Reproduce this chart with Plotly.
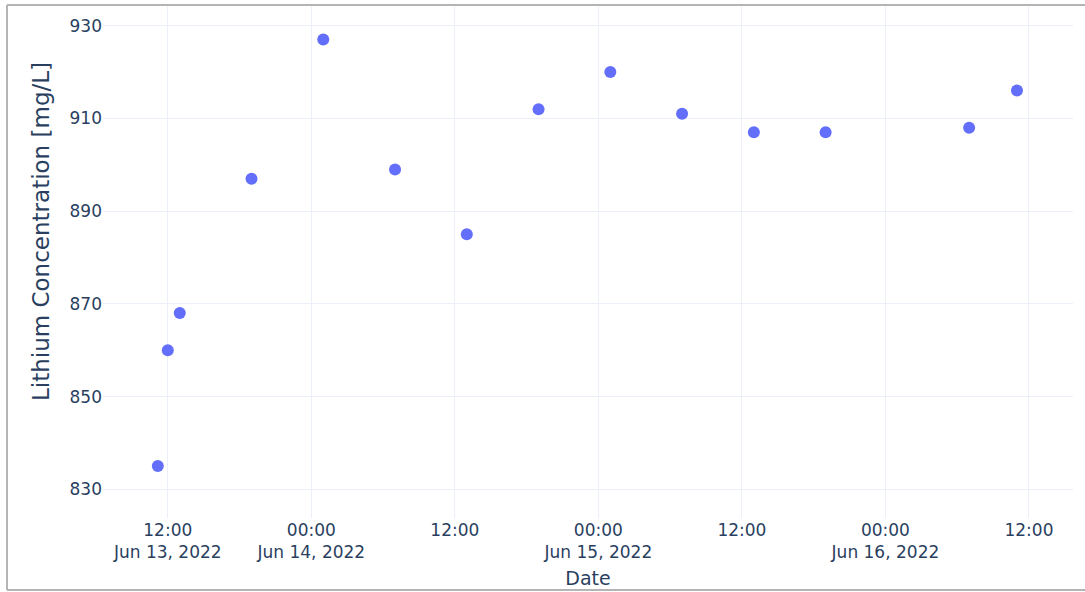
import plotly.graph_objects as go

# Data
dates = [
    "2022-06-13 11:10", "2022-06-13 12:00", "2022-06-13 13:00", "2022-06-13 19:00",
    "2022-06-14 01:00", "2022-06-14 07:00", "2022-06-14 13:00", "2022-06-14 19:00",
    "2022-06-15 01:00", "2022-06-15 07:00", "2022-06-15 13:00", "2022-06-15 19:00",
    "2022-06-16 07:00", "2022-06-16 11:00",
]
lithium = [835, 860, 868, 897, 927, 899, 885, 912, 920, 911, 907, 907, 908, 916]

x_range = ["2022-06-13 06:35", "2022-06-16 15:41"]
y_range = [823.8, 934.25]

W, H = 1085, 592
ML, MR, MT, MB = 103, 12, 6, 74
pw = W - ML - MR
ph = H - MT - MB

fig = go.Figure(
    go.Scatter(
        x=dates, y=lithium, mode="markers",
        marker=dict(color="#636efa", size=12),
    )
)

font_family = "DejaVu Sans, Verdana, sans-serif"

fig.update_layout(
    template="plotly_white",
    width=W, height=H,
    margin=dict(l=ML, r=MR, t=MT, b=MB, autoexpand=False),
    font=dict(family=font_family, color="#2a3f5f", size=17),
    showlegend=False,
    paper_bgcolor="white",
    plot_bgcolor="white",
)

fig.update_xaxes(
    range=x_range, type="date",
    dtick=12 * 3600 * 1000, tick0="2022-06-13 00:00",
    title=dict(text="Date", font=dict(size=19, color="#2a3f5f"), standoff=10),
    tickfont=dict(size=17),
    gridcolor="#EBF0F8", zeroline=False, automargin=False,
)
fig.update_yaxes(
    range=y_range, dtick=20, tick0=830,
    tickfont=dict(size=17),
    gridcolor="#EBF0F8", zeroline=False, automargin=False,
)

# y-axis title (placed as in the reference, slightly above the plot centre)
fig.add_annotation(
    text="Lithium Concentration [mg/L]", textangle=-90,
    xref="paper", yref="paper",
    x=(41 - ML) / pw, y=(H - MB - 232) / ph,
    xanchor="center", yanchor="middle", showarrow=False,
    font=dict(size=23, color="#2a3f5f", family=font_family),
)

# Light grey frame around the screenshot (top, left, bottom edges)
fx0 = (7 - ML) / pw
fx1 = (W - ML) / pw
fy1 = (H - MB - 5) / ph
fy0 = (H - MB - 590) / ph
frame = dict(color="#b5b5b5", width=2)
fig.add_shape(type="line", xref="paper", yref="paper", x0=fx0, x1=fx1, y0=fy1, y1=fy1, line=frame, layer="above")
fig.add_shape(type="line", xref="paper", yref="paper", x0=fx0, x1=fx1, y0=fy0, y1=fy0, line=frame, layer="above")
fig.add_shape(type="line", xref="paper", yref="paper", x0=fx0, x1=fx0, y0=fy0, y1=fy1, line=frame, layer="above")

fig.write_html(
    "out.html",
    config={"displayModeBar": False},
    post_script="document.body.style.margin='0px';document.body.style.overflow='hidden';",
)
